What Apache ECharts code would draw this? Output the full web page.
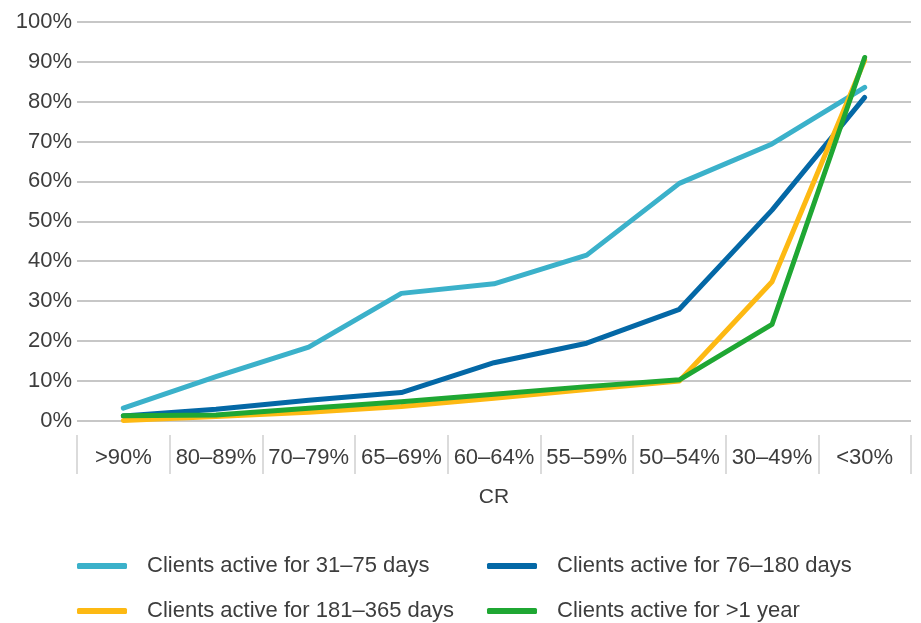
<!DOCTYPE html>
<html>
<head>
<meta charset="utf-8">
<script src="https://cdn.jsdelivr.net/npm/echarts@6/dist/echarts.min.js"></script>
<style>
  html, body { margin: 0; padding: 0; background: #fff; }
  #chart { width: 921px; height: 623px; }
</style>
</head>
<body>
<div id="chart"></div>
<script>
// CR bands along the x axis
var categories = ['>90%', '80–89%', '70–79%', '65–69%', '60–64%', '55–59%', '50–54%', '30–49%', '<30%'];

// Share of clients (%) per CR band, by activity period
var active31to75 = [3.1, 11.0, 18.4, 31.9, 34.3, 41.5, 59.5, 69.4, 83.6];
var active76to180 = [1.1, 2.8, 5.1, 7.0, 14.5, 19.4, 27.9, 52.8, 81.1];
var active181to365 = [0.0, 1.0, 2.1, 3.5, 5.6, 7.8, 9.9, 34.8, 90.4];
var activeOver1Year = [1.2, 1.4, 3.1, 4.7, 6.6, 8.5, 10.2, 24.1, 91.1];

var seriesNames = [
  'Clients active for 31–75 days',
  'Clients active for 76–180 days',
  'Clients active for 181–365 days',
  'Clients active for >1 year'
];
var colors = ['#3bb1ca', '#0468a6', '#fdb913', '#1fa733'];

var fontFamily = '"Liberation Sans", Arial, sans-serif';
var textColor = '#3d3d3d';

function lineSeries(i, data) {
  return {
    name: seriesNames[i],
    type: 'line',
    data: data,
    symbol: 'none',
    lineStyle: { color: colors[i], width: 5, cap: 'round', join: 'round' },
    itemStyle: { color: colors[i] },
    z: 2 + i
  };
}

// one legend entry per block, laid out as a 2x2 table
function legendItem(left, top, name) {
  return {
    orient: 'horizontal',
    left: left,
    top: top,
    padding: 0,
    itemWidth: 50,
    itemHeight: 6,
    icon: 'roundRect',
    data: [name],
    textStyle: {
      fontFamily: fontFamily,
      fontSize: 22,
      color: textColor,
      padding: [0, 0, 0, 15]
    }
  };
}

var chart = echarts.init(document.getElementById('chart'));
chart.setOption({
  animation: false,
  backgroundColor: '#ffffff',
  grid: [
    // plot area
    { left: 77, right: 10, top: 22, bottom: 202.5, containLabel: false },
    // band of category separators under the plot
    { left: 77, right: 10, top: 435, height: 39, containLabel: false }
  ],
  legend: [
    legendItem(77, 555, seriesNames[0]),
    legendItem(487, 555, seriesNames[1]),
    legendItem(77, 600, seriesNames[2]),
    legendItem(487, 600, seriesNames[3])
  ],
  xAxis: [
    {
      type: 'category',
      gridIndex: 0,
      data: categories,
      boundaryGap: true,
      name: 'CR',
      nameLocation: 'middle',
      nameGap: 66,
      nameTextStyle: { fontFamily: fontFamily, fontSize: 21, color: textColor },
      axisLine: { show: false },
      axisTick: { show: false },
      axisLabel: { fontFamily: fontFamily, fontSize: 22, color: textColor, margin: 26, interval: 0 },
      splitLine: { show: false }
    },
    {
      type: 'category',
      gridIndex: 1,
      data: categories,
      boundaryGap: true,
      axisLine: { show: false },
      axisTick: { show: false },
      axisLabel: { show: false },
      splitLine: { show: true, interval: 0, lineStyle: { color: '#cfcfcf', width: 1.5 } }
    }
  ],
  yAxis: [
    {
      type: 'value',
      gridIndex: 0,
      min: 0,
      max: 100,
      interval: 10,
      axisLine: { show: false },
      axisTick: { show: false },
      axisLabel: {
        fontFamily: fontFamily,
        fontSize: 22,
        color: textColor,
        margin: 5,
        formatter: '{value}%'
      },
      splitLine: { lineStyle: { color: '#b5b5b5', width: 1.5 } }
    },
    {
      type: 'value',
      gridIndex: 1,
      show: false,
      splitLine: { show: false }
    }
  ],
  series: [
    lineSeries(0, active31to75),
    lineSeries(1, active76to180),
    lineSeries(2, active181to365),
    lineSeries(3, activeOver1Year)
  ]
});
</script>
</body>
</html>
